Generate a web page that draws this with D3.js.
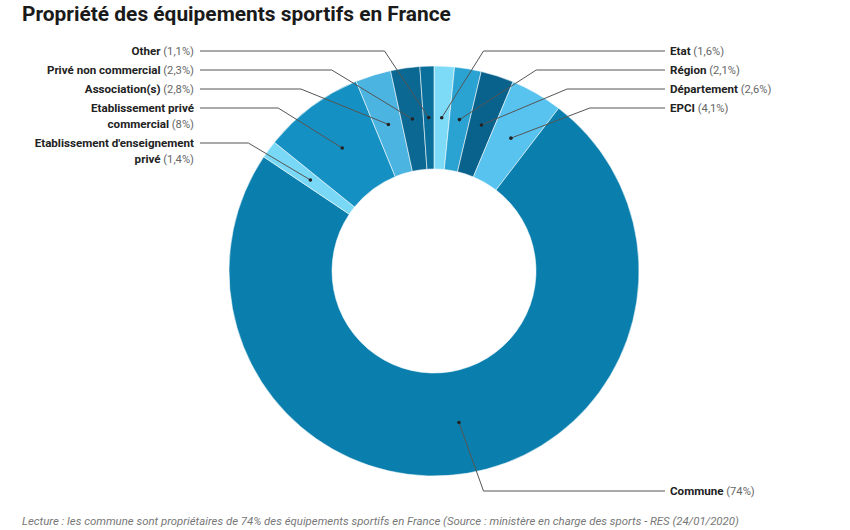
<!DOCTYPE html>
<html><head><meta charset="utf-8">
<script src="https://cdn.jsdelivr.net/npm/d3@7"></script>
<style>
html,body{margin:0;padding:0;background:#fff;}
svg{display:block;font-family:Roboto, "Noto Sans", sans-serif;}
</style></head>
<body>
<svg id="chart" width="850" height="530"></svg>
<script>
const categories = ["Etat","Région","Département","EPCI","Commune","Etablissement d'enseignement privé","Etablissement privé commercial","Association(s)","Privé non commercial","Other"];
const labelLines = [["Etat"],["Région"],["Département"],["EPCI"],["Commune"],["Etablissement d'enseignement","privé"],["Etablissement privé","commercial"],["Association(s)"],["Privé non commercial"],["Other"]];
const values = [1.6,2.1,2.6,4.1,74,1.4,8,2.8,2.3,1.1];
const valueLabels = ["1,6%","2,1%","2,6%","4,1%","74%","1,4%","8%","2,8%","2,3%","1,1%"];
const colors = ["#7ddbf7","#2aa3d3","#09628c","#57c3ee","#0a7fad","#79d8f6","#1490c2","#4cb4e1","#0a6892","#0b6f9c"];

const svg = d3.select("#chart");
const cx = 434, cy = 271, rOuter = 205, rInner = 102, rDot = 153.5, rElbow = 225.5;

svg.append("text").attr("x", 22).attr("y", 21)
  .attr("font-size", 20.9).attr("font-weight", 700).attr("fill", "#1a1a1a")
  .text("Propriété des équipements sportifs en France");

svg.append("text").attr("x", 22).attr("y", 525)
  .attr("font-size", 11.4).attr("font-style", "italic").attr("fill", "#777")
  .text("Lecture : les commune sont propriétaires de 74% des équipements sportifs en France (Source : ministère en charge des sports - RES (24/01/2020)");

const data = categories.map((c, i) => ({name: c, lines: labelLines[i], value: values[i], label: valueLabels[i], color: colors[i], i}));
const pie = d3.pie().value(d => d.value).sort(null);
const arcs = pie(data);
const arc = d3.arc().innerRadius(rInner).outerRadius(rOuter);
const dotArc = d3.arc().innerRadius(rDot).outerRadius(rDot);

const g = svg.append("g").attr("transform", `translate(${cx},${cy})`);
g.selectAll("path.slice").data(arcs).join("path")
  .attr("class", "slice")
  .attr("d", arc)
  .attr("fill", d => d.data.color)
  .attr("stroke", "rgba(255,255,255,0.55)")
  .attr("stroke-width", 1);

const lineH = 16, gap = 3, topStart = 51;
let rightY = topStart;
const labels = arcs.map(a => {
  const mid = (a.startAngle + a.endAngle) / 2;
  const right = mid < Math.PI;
  const bottom = Math.cos(mid) < -0.5;
  let y = 0;
  if (bottom) {
    y = cy + 220;
  } else if (right) {
    y = rightY; rightY += a.data.lines.length * lineH + gap;
  }
  return {a, mid, right, bottom, y};
});
{
  const leftOnes = labels.filter(l => !l.right && !l.bottom).sort((p, q) => q.mid - p.mid);
  let yy = topStart;
  leftOnes.forEach(l => { l.y = yy; yy += l.a.data.lines.length * lineH + gap; });
}

const lg = svg.append("g");
labels.forEach(l => {
  const [dx, dy] = dotArc.centroid(l.a);
  const px = cx + dx, py = cy + dy;
  const ey = l.y;
  const ex = cx + (l.right ? 1 : -1) * Math.sqrt(Math.max(0, rElbow * rElbow - (ey - cy) * (ey - cy)));
  const tx = l.right ? 665 : 200;
  lg.append("polyline")
    .attr("points", `${px},${py} ${ex},${ey} ${tx},${ey}`)
    .attr("fill", "none").attr("stroke", "#555").attr("stroke-width", 1);
  lg.append("circle").attr("cx", px).attr("cy", py).attr("r", 1.8).attr("fill", "#222");
  const lines = l.a.data.lines;
  lines.forEach((ln, k) => {
    const t = lg.append("text")
      .attr("x", l.right ? tx + 5 : tx - 6)
      .attr("y", ey + k * lineH)
      .attr("dy", "0.35em")
      .attr("text-anchor", l.right ? "start" : "end")
      .attr("font-size", 11.6);
    t.append("tspan").attr("font-weight", 700).attr("fill", "#222").text(ln);
    if (k === lines.length - 1) {
      t.append("tspan").attr("fill", "#666").attr("font-size", 11.2).text(" (" + l.a.data.label + ")");
    }
  });
});
</script>
</body></html>
